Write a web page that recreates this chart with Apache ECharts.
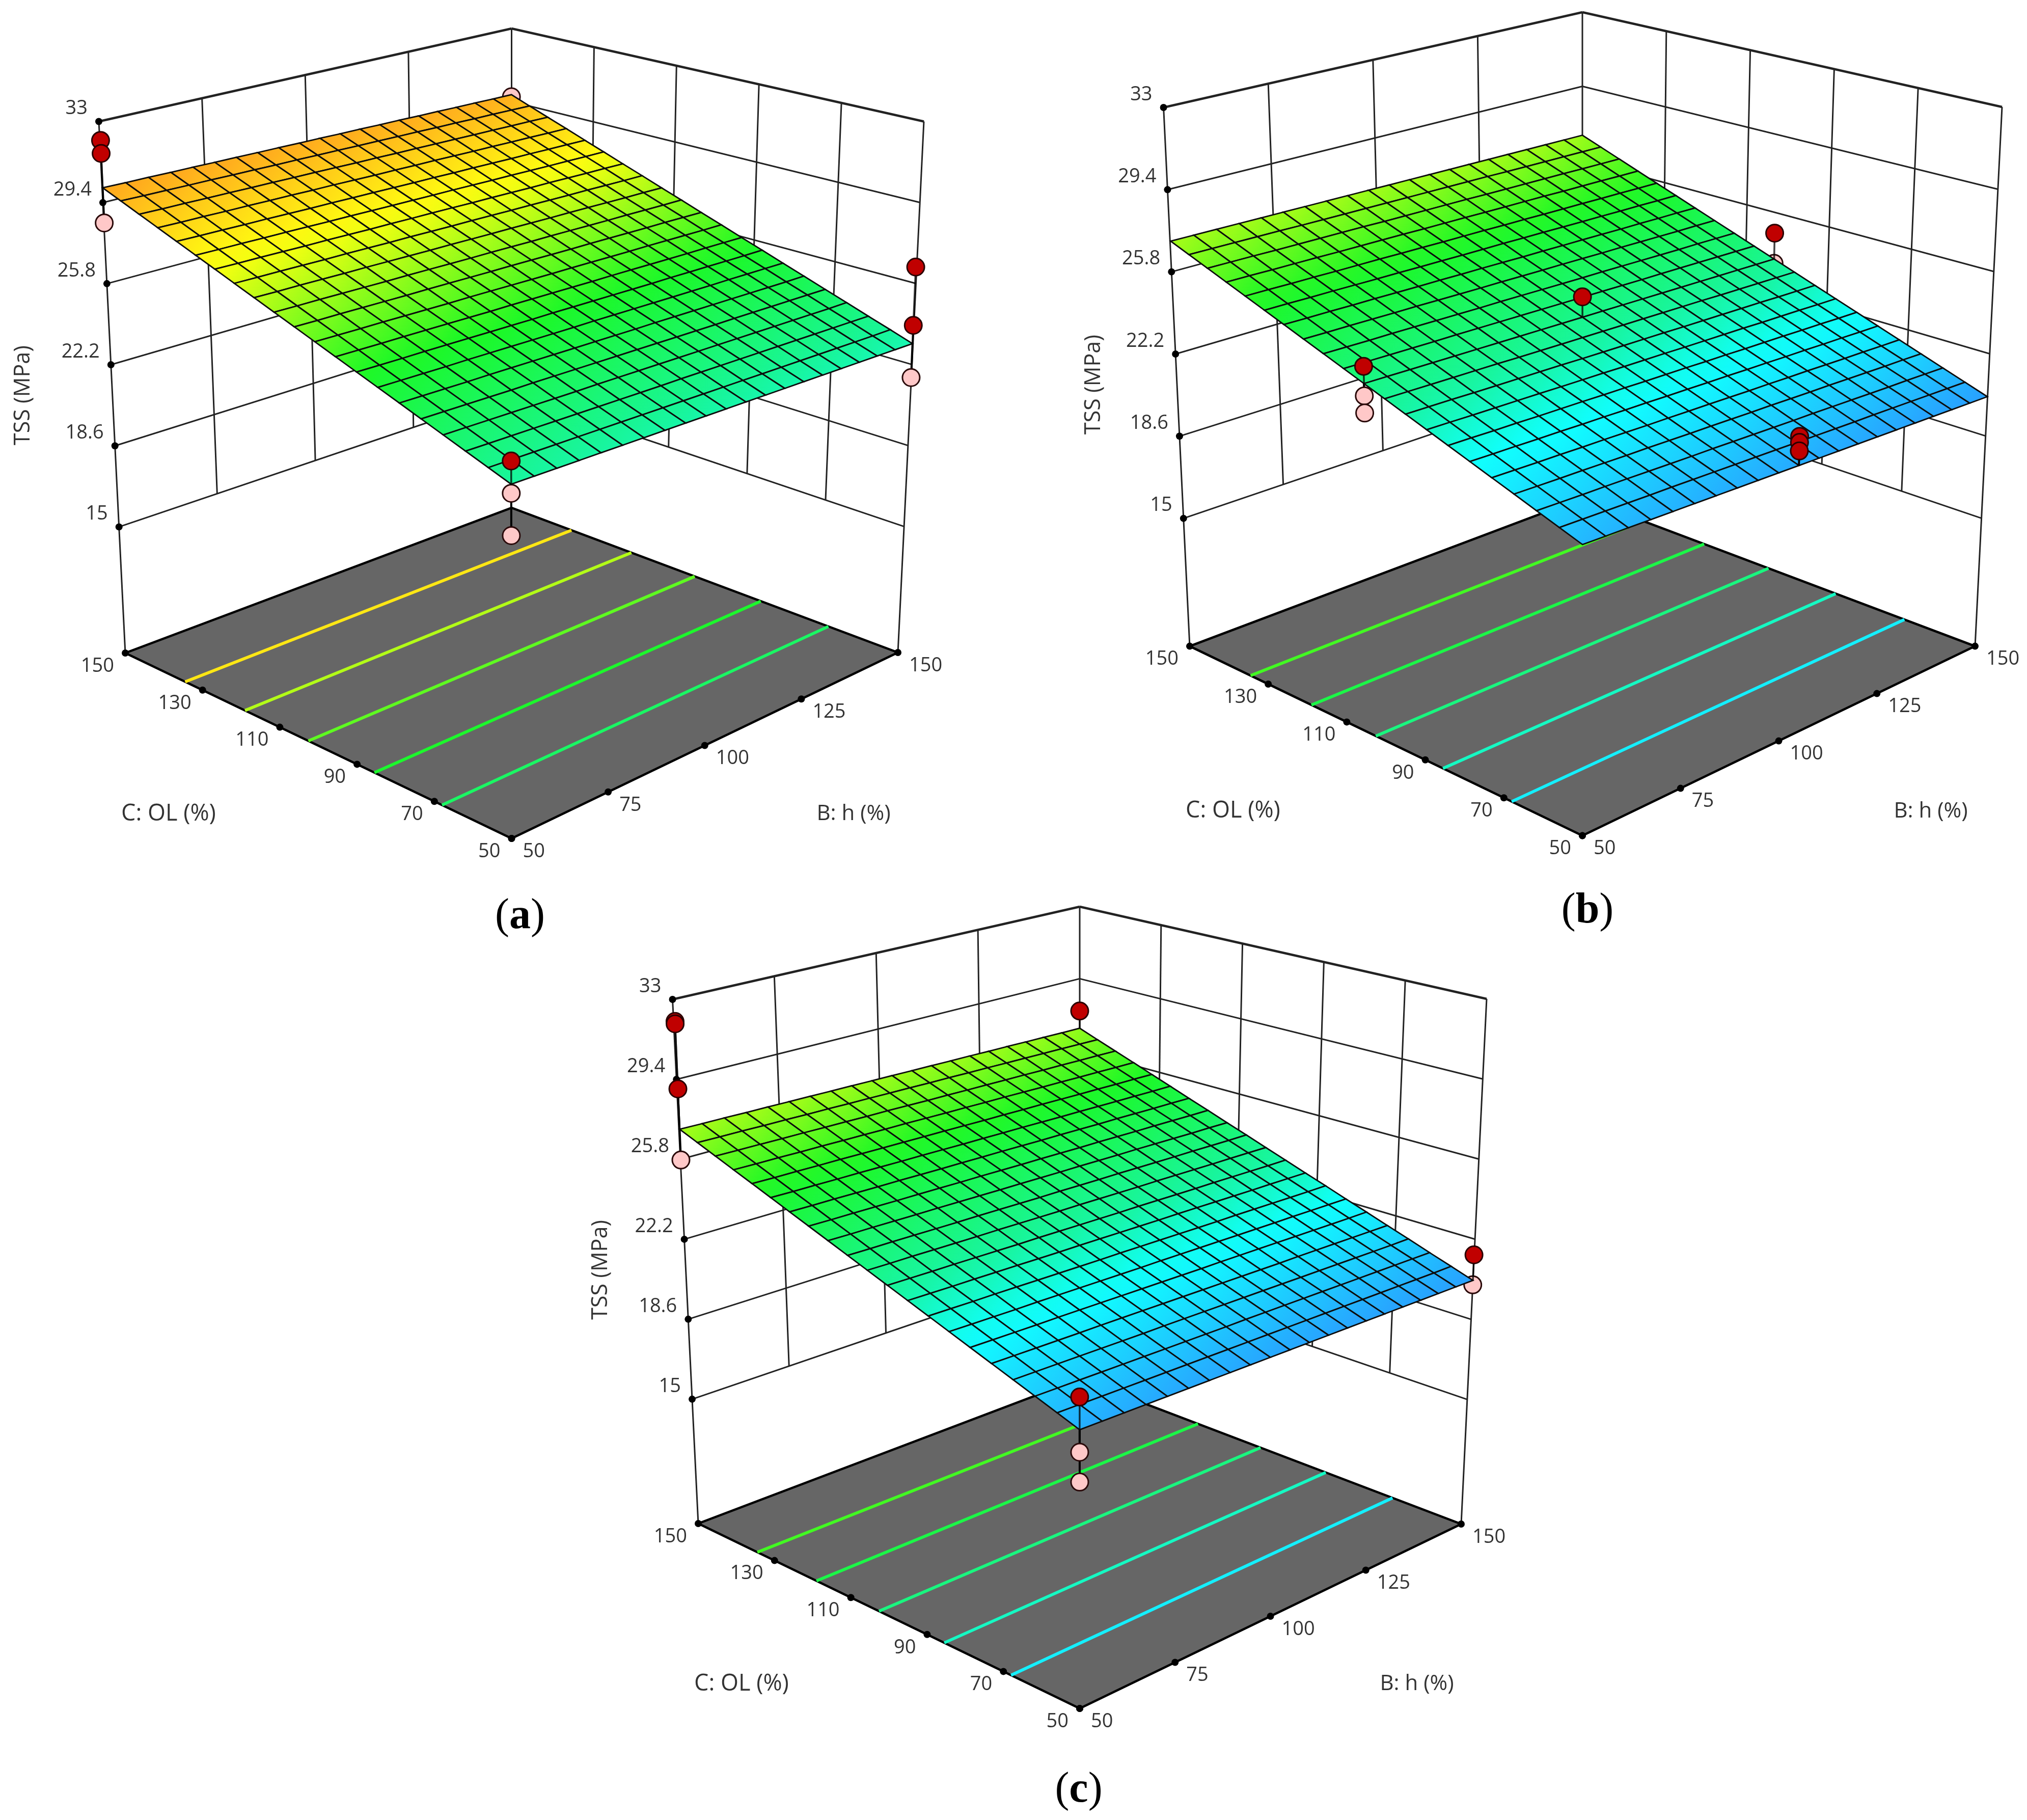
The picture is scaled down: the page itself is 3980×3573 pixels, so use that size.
<!DOCTYPE html>
<html><head><meta charset="utf-8">
<script src="https://cdn.jsdelivr.net/npm/echarts@6/dist/echarts.min.js"></script>
<style>html,body{margin:0;padding:0;background:#fff}#c{width:3980px;height:3573px}</style>
</head><body><div id="c"></div>
<script>
const bTicks=[50,75,100,125,150];
const cTicks=[50,70,90,110,130,150];
const zTicks=[15,18.6,22.2,25.8,29.4,33];
const zTickLabels=['15','18.6','22.2','25.8','29.4','33'];
const gridB=[50,55,60,65,70,75,80,85,90,95,100,105,110,115,120,125,130,135,140,145,150];
const gridC=[150,145,140,135,130,125,120,115,110,105,100,95,90,85,80,75,70,65,60,55,50];
const floorZ=9.4;
// TSS fitted surface, rows follow gridC, columns follow gridB
const surfaceA=[
[30.00,29.99,29.99,29.98,29.98,29.97,29.97,29.96,29.96,29.95,29.95,29.94,29.94,29.93,29.93,29.92,29.92,29.91,29.91,29.90,29.90],
[29.68,29.67,29.67,29.66,29.66,29.65,29.65,29.64,29.64,29.63,29.63,29.62,29.62,29.61,29.61,29.60,29.60,29.59,29.59,29.58,29.57],
[29.36,29.35,29.35,29.34,29.34,29.33,29.33,29.32,29.32,29.31,29.30,29.30,29.29,29.29,29.28,29.28,29.27,29.27,29.26,29.26,29.25],
[29.04,29.03,29.03,29.02,29.02,29.01,29.01,29.00,29.00,28.99,28.98,28.98,28.97,28.97,28.96,28.95,28.95,28.94,28.94,28.93,28.93],
[28.72,28.71,28.71,28.70,28.70,28.69,28.68,28.68,28.67,28.67,28.66,28.65,28.65,28.64,28.64,28.63,28.62,28.62,28.61,28.61,28.60],
[28.40,28.39,28.39,28.38,28.38,28.37,28.36,28.36,28.35,28.34,28.34,28.33,28.33,28.32,28.31,28.31,28.30,28.29,28.29,28.28,28.28],
[28.08,28.07,28.07,28.06,28.05,28.05,28.04,28.03,28.03,28.02,28.02,28.01,28.00,28.00,27.99,27.98,27.98,27.97,27.96,27.96,27.95],
[27.76,27.75,27.75,27.74,27.73,27.73,27.72,27.71,27.71,27.70,27.69,27.69,27.68,27.67,27.67,27.66,27.65,27.65,27.64,27.63,27.63],
[27.44,27.43,27.43,27.42,27.41,27.41,27.40,27.39,27.38,27.38,27.37,27.36,27.36,27.35,27.34,27.34,27.33,27.32,27.31,27.31,27.30],
[27.12,27.11,27.11,27.10,27.09,27.08,27.08,27.07,27.06,27.05,27.05,27.04,27.03,27.03,27.02,27.01,27.00,27.00,26.99,26.98,26.98],
[26.80,26.79,26.79,26.78,26.77,26.76,26.76,26.75,26.74,26.73,26.73,26.72,26.71,26.70,26.70,26.69,26.68,26.67,26.67,26.66,26.65],
[26.48,26.47,26.46,26.46,26.45,26.44,26.43,26.43,26.42,26.41,26.40,26.39,26.39,26.38,26.37,26.36,26.36,26.35,26.34,26.33,26.33],
[26.16,26.15,26.14,26.14,26.13,26.12,26.11,26.10,26.10,26.09,26.08,26.07,26.06,26.06,26.05,26.04,26.03,26.02,26.02,26.01,26.00],
[25.84,25.83,25.82,25.82,25.81,25.80,25.79,25.78,25.77,25.77,25.76,25.75,25.74,25.73,25.72,25.72,25.71,25.70,25.69,25.68,25.68],
[25.52,25.51,25.50,25.49,25.49,25.48,25.47,25.46,25.45,25.44,25.44,25.43,25.42,25.41,25.40,25.39,25.38,25.38,25.37,25.36,25.35],
[25.20,25.19,25.18,25.17,25.17,25.16,25.15,25.14,25.13,25.12,25.11,25.10,25.10,25.09,25.08,25.07,25.06,25.05,25.04,25.03,25.03],
[24.88,24.87,24.86,24.85,24.84,24.84,24.83,24.82,24.81,24.80,24.79,24.78,24.77,24.76,24.75,24.75,24.74,24.73,24.72,24.71,24.70],
[24.56,24.55,24.54,24.53,24.52,24.51,24.50,24.50,24.49,24.48,24.47,24.46,24.45,24.44,24.43,24.42,24.41,24.40,24.39,24.38,24.38],
[24.24,24.23,24.22,24.21,24.20,24.19,24.18,24.17,24.16,24.15,24.15,24.14,24.13,24.12,24.11,24.10,24.09,24.08,24.07,24.06,24.05],
[23.92,23.91,23.90,23.89,23.88,23.87,23.86,23.85,23.84,23.83,23.82,23.81,23.80,23.79,23.78,23.77,23.76,23.75,23.74,23.73,23.73],
[23.60,23.59,23.58,23.57,23.56,23.55,23.54,23.53,23.52,23.51,23.50,23.49,23.48,23.47,23.46,23.45,23.44,23.43,23.42,23.41,23.40]];
const surfaceB=[
[27.20,27.20,27.20,27.20,27.20,27.20,27.20,27.20,27.20,27.20,27.20,27.20,27.20,27.20,27.20,27.20,27.20,27.20,27.20,27.20,27.20],
[26.89,26.89,26.89,26.89,26.89,26.88,26.88,26.88,26.88,26.88,26.88,26.88,26.88,26.88,26.88,26.87,26.87,26.87,26.87,26.87,26.87],
[26.58,26.58,26.58,26.57,26.57,26.57,26.57,26.57,26.56,26.56,26.56,26.56,26.56,26.55,26.55,26.55,26.55,26.55,26.54,26.54,26.54],
[26.27,26.27,26.26,26.26,26.26,26.25,26.25,26.25,26.25,26.24,26.24,26.24,26.23,26.23,26.23,26.23,26.22,26.22,26.22,26.21,26.21],
[25.96,25.96,25.95,25.95,25.94,25.94,25.94,25.93,25.93,25.92,25.92,25.92,25.91,25.91,25.90,25.90,25.90,25.89,25.89,25.88,25.88],
[25.65,25.65,25.64,25.64,25.63,25.62,25.62,25.61,25.61,25.60,25.60,25.60,25.59,25.59,25.58,25.57,25.57,25.56,25.56,25.55,25.55],
[25.34,25.33,25.33,25.32,25.32,25.31,25.30,25.30,25.29,25.29,25.28,25.27,25.27,25.26,25.26,25.25,25.24,25.24,25.23,25.23,25.22],
[25.03,25.02,25.02,25.01,25.00,25.00,24.99,24.98,24.97,24.97,24.96,24.95,24.95,24.94,24.93,24.93,24.92,24.91,24.90,24.90,24.89],
[24.72,24.71,24.70,24.70,24.69,24.68,24.67,24.66,24.66,24.65,24.64,24.63,24.62,24.62,24.61,24.60,24.59,24.58,24.58,24.57,24.56],
[24.41,24.40,24.39,24.38,24.37,24.37,24.36,24.35,24.34,24.33,24.32,24.31,24.30,24.29,24.28,24.28,24.27,24.26,24.25,24.24,24.23],
[24.10,24.09,24.08,24.07,24.06,24.05,24.04,24.03,24.02,24.01,24.00,23.99,23.98,23.97,23.96,23.95,23.94,23.93,23.92,23.91,23.90],
[23.79,23.78,23.77,23.76,23.75,23.74,23.72,23.71,23.70,23.69,23.68,23.67,23.66,23.65,23.64,23.63,23.61,23.60,23.59,23.58,23.57],
[23.48,23.47,23.46,23.44,23.43,23.42,23.41,23.40,23.38,23.37,23.36,23.35,23.34,23.32,23.31,23.30,23.29,23.28,23.26,23.25,23.24],
[23.17,23.16,23.14,23.13,23.12,23.11,23.09,23.08,23.07,23.05,23.04,23.03,23.01,23.00,22.99,22.98,22.96,22.95,22.94,22.92,22.91],
[22.86,22.85,22.83,22.82,22.80,22.79,22.78,22.76,22.75,22.73,22.72,22.71,22.69,22.68,22.66,22.65,22.64,22.62,22.61,22.59,22.58],
[22.55,22.53,22.52,22.50,22.49,22.47,22.46,22.44,22.43,22.41,22.40,22.38,22.37,22.35,22.34,22.32,22.31,22.29,22.28,22.26,22.25],
[22.24,22.22,22.20,22.19,22.17,22.16,22.14,22.12,22.11,22.09,22.08,22.06,22.04,22.03,22.01,22.00,21.98,21.96,21.95,21.93,21.92],
[21.93,21.91,21.89,21.88,21.86,21.84,21.83,21.81,21.79,21.78,21.76,21.74,21.73,21.71,21.69,21.68,21.66,21.64,21.62,21.61,21.59],
[21.62,21.60,21.58,21.57,21.55,21.53,21.51,21.49,21.48,21.46,21.44,21.42,21.40,21.39,21.37,21.35,21.33,21.31,21.30,21.28,21.26],
[21.31,21.29,21.27,21.25,21.23,21.22,21.20,21.18,21.16,21.14,21.12,21.10,21.08,21.06,21.04,21.03,21.01,20.99,20.97,20.95,20.93],
[21.00,20.98,20.96,20.94,20.92,20.90,20.88,20.86,20.84,20.82,20.80,20.78,20.76,20.74,20.72,20.70,20.68,20.66,20.64,20.62,20.60]];
const surfaceC=[
[27.20,27.19,27.19,27.18,27.18,27.17,27.17,27.16,27.16,27.15,27.15,27.14,27.14,27.13,27.13,27.12,27.12,27.11,27.11,27.10,27.10],
[26.88,26.87,26.87,26.86,26.86,26.85,26.85,26.84,26.84,26.83,26.83,26.82,26.82,26.81,26.81,26.80,26.80,26.79,26.79,26.78,26.77],
[26.56,26.55,26.55,26.54,26.54,26.53,26.53,26.52,26.52,26.51,26.50,26.50,26.49,26.49,26.48,26.48,26.47,26.47,26.46,26.46,26.45],
[26.24,26.23,26.23,26.22,26.22,26.21,26.21,26.20,26.20,26.19,26.18,26.18,26.17,26.17,26.16,26.15,26.15,26.14,26.14,26.13,26.13],
[25.92,25.91,25.91,25.90,25.90,25.89,25.88,25.88,25.87,25.87,25.86,25.85,25.85,25.84,25.84,25.83,25.82,25.82,25.81,25.81,25.80],
[25.60,25.59,25.59,25.58,25.58,25.57,25.56,25.56,25.55,25.54,25.54,25.53,25.53,25.52,25.51,25.51,25.50,25.49,25.49,25.48,25.48],
[25.28,25.27,25.27,25.26,25.25,25.25,25.24,25.23,25.23,25.22,25.22,25.21,25.20,25.20,25.19,25.18,25.18,25.17,25.16,25.16,25.15],
[24.96,24.95,24.95,24.94,24.93,24.93,24.92,24.91,24.91,24.90,24.89,24.89,24.88,24.87,24.87,24.86,24.85,24.85,24.84,24.83,24.83],
[24.64,24.63,24.63,24.62,24.61,24.61,24.60,24.59,24.58,24.58,24.57,24.56,24.56,24.55,24.54,24.54,24.53,24.52,24.51,24.51,24.50],
[24.32,24.31,24.31,24.30,24.29,24.28,24.28,24.27,24.26,24.25,24.25,24.24,24.23,24.23,24.22,24.21,24.20,24.20,24.19,24.18,24.18],
[24.00,23.99,23.99,23.98,23.97,23.96,23.96,23.95,23.94,23.93,23.93,23.92,23.91,23.90,23.90,23.89,23.88,23.87,23.87,23.86,23.85],
[23.68,23.67,23.66,23.66,23.65,23.64,23.63,23.63,23.62,23.61,23.60,23.59,23.59,23.58,23.57,23.56,23.56,23.55,23.54,23.53,23.53],
[23.36,23.35,23.34,23.34,23.33,23.32,23.31,23.30,23.30,23.29,23.28,23.27,23.26,23.26,23.25,23.24,23.23,23.22,23.22,23.21,23.20],
[23.04,23.03,23.02,23.02,23.01,23.00,22.99,22.98,22.97,22.97,22.96,22.95,22.94,22.93,22.92,22.92,22.91,22.90,22.89,22.88,22.88],
[22.72,22.71,22.70,22.69,22.69,22.68,22.67,22.66,22.65,22.64,22.64,22.63,22.62,22.61,22.60,22.59,22.58,22.58,22.57,22.56,22.55],
[22.40,22.39,22.38,22.37,22.37,22.36,22.35,22.34,22.33,22.32,22.31,22.30,22.30,22.29,22.28,22.27,22.26,22.25,22.24,22.23,22.23],
[22.08,22.07,22.06,22.05,22.04,22.04,22.03,22.02,22.01,22.00,21.99,21.98,21.97,21.96,21.95,21.95,21.94,21.93,21.92,21.91,21.90],
[21.76,21.75,21.74,21.73,21.72,21.71,21.70,21.70,21.69,21.68,21.67,21.66,21.65,21.64,21.63,21.62,21.61,21.60,21.59,21.58,21.58],
[21.44,21.43,21.42,21.41,21.40,21.39,21.38,21.37,21.36,21.35,21.35,21.34,21.33,21.32,21.31,21.30,21.29,21.28,21.27,21.26,21.25],
[21.12,21.11,21.10,21.09,21.08,21.07,21.06,21.05,21.04,21.03,21.02,21.01,21.00,20.99,20.98,20.97,20.96,20.95,20.94,20.93,20.93],
[20.80,20.79,20.78,20.77,20.76,20.75,20.74,20.73,20.72,20.71,20.70,20.69,20.68,20.67,20.66,20.65,20.64,20.63,20.62,20.61,20.60]];
// contour lines on the floor: position along C and TSS level
const contourC=[134.5,119,102.6,85.5,68];
const levelsA=[28.7,27.4,26.5,25.7,24.7];
const levelsB=[26.2,25.2,24.2,23.2,22.2];
const levelsC=[26.2,25.2,24.2,23.2,22.2];
// design points [B, C, TSS]: above / below the surface
const aboveA=[[50,150,32.0],[50,150,31.45],[150,50,26.74],[150,50,24.2],[50,50,24.5]];
const belowA=[[50,150,28.5],[150,150,29.8],[150,50,21.9],[50,50,23.25],[50,50,21.6]];
const aboveB=[[50,100,24.8],[100,100,24.88],[150,100,25.08],[100,50,22.0],[100,50,21.75],[100,50,21.4]];
const belowB=[[50,100,23.6],[50,100,22.9],[150,100,23.7]];
const aboveC=[[50,150,31.85],[50,150,31.75],[50,150,28.95],[150,150,27.94],[150,50,21.75],[50,50,22.1]];
const belowC=[[50,150,25.85],[150,50,20.4],[50,50,19.9],[50,50,18.7]];
// colour scale of the response
const colorZ=[20.5,22.5,23.6,25.8,28.2,30.2];
const colorHex=['#2a9cff','#10ffff','#18f5a0','#1cf826','#ffff10','#ffa020'];

// camera calibration: box corner [B,C,z] -> picture position
const camA=[[50,150,33,194,238.5],[150,150,33,1004.5,56],[150,50,33,1814,238.5],[50,150,29.4,201,398],[50,150,25.8,208,557],[50,150,22.2,217,715.5],[50,150,18.6,224,874],[50,150,15,232.6,1033],[150,50,15,1776,1034],[50,150,9.4,246,1282],[50,50,9.4,1004.5,1646],[150,50,9.4,1763,1281],[150,150,9.4,1004.5,997]];
const camB=[[50,150,33,2284.6,211],[150,150,33,3107,24],[150,50,33,3931,210],[50,150,29.4,2292,372],[50,150,25.8,2300,534],[50,150,22.2,2309,695],[50,150,18.6,2316,856],[50,150,15,2323,1018],[150,50,15,3891,1018],[50,150,9.4,2336,1268.6],[50,50,9.4,3107,1640.6],[150,50,9.4,3878,1268.6],[150,150,9.4,3107,978],[150,150,29.4,3107,171]];
const camC=[[50,150,33,1320.5,1962],[150,150,33,2120,1780],[150,50,33,2919,1961],[50,150,29.4,1329,2118],[50,150,25.8,1336,2274],[50,150,22.2,1343.5,2434],[50,150,18.6,1351,2590],[50,150,15,1358,2747],[150,50,15,2882,2745],[50,150,9.4,1371,2991],[50,50,9.4,2120,3354],[150,50,9.4,2869,2992],[150,150,9.4,2120,2707],[150,150,29.4,2120,1923]];

function camera(ctrl){
  const A=[],Y=[];
  ctrl.forEach(([B,C,Z,x,y])=>{
    const u=(B-50)/100,v=(C-50)/100,w=(Z-15)/18,X=x/1000,W=y/1000;
    A.push([u,v,w,1,0,0,0,0,-X*u,-X*v,-X*w]);Y.push(X);
    A.push([0,0,0,0,u,v,w,1,-W*u,-W*v,-W*w]);Y.push(W);
  });
  const n=11,M=[];
  for(let i=0;i<n;i++){const r=[];for(let j=0;j<n;j++){let s=0;A.forEach(a=>s+=a[i]*a[j]);r.push(s);}let s=0;A.forEach((a,k)=>s+=a[i]*Y[k]);r.push(s);M.push(r);}
  for(let i=0;i<n;i++){let m=i;for(let k=i+1;k<n;k++)if(Math.abs(M[k][i])>Math.abs(M[m][i]))m=k;[M[i],M[m]]=[M[m],M[i]];
    for(let k=0;k<n;k++){if(k===i)continue;const f=M[k][i]/M[i][i];for(let j=i;j<=n;j++)M[k][j]-=f*M[i][j];}}
  const p=M.map((r,i)=>r[n]/r[i]);
  return (B,C,Z)=>{const u=(B-50)/100,v=(C-50)/100,w=(Z-15)/18,d=p[8]*u+p[9]*v+p[10]*w+1;
    return [1000*(p[0]*u+p[1]*v+p[2]*w+p[3])/d,1000*(p[4]*u+p[5]*v+p[6]*w+p[7])/d];};
}
// the box frame (walls, floor, ticks, contours) is spaced evenly between its corners
function boxFrame(ctrl,proj){
  const corner=(B,C,Z)=>{const r=ctrl.find(q=>q[0]===B&&q[1]===C&&q[2]===Z);return r?[r[3],r[4]]:proj(B,C,Z);};
  const K={};
  [50,150].forEach(B=>[50,150].forEach(C=>[floorZ,33].forEach(Z=>{K[B+'_'+C+'_'+Z]=corner(B,C,Z);})));
  return (B,C,Z)=>{const u=(B-50)/100,v=(C-50)/100,w=(Z-floorZ)/(33-floorZ);
    const q=(a,b,t)=>[a[0]+(b[0]-a[0])*t,a[1]+(b[1]-a[1])*t];
    const lvl=z=>q(q(K['50_50_'+z],K['150_50_'+z],u),q(K['50_150_'+z],K['150_150_'+z],u),v);
    return q(lvl(floorZ),lvl(33),w);};
}
function hex(c){return [1,3,5].map(i=>parseInt(c.substr(i,2),16));}
function colorAt(z){
  if(z<=colorZ[0])return colorHex[0];
  for(let i=1;i<colorZ.length;i++){if(z<=colorZ[i]){const t=(z-colorZ[i-1])/(colorZ[i]-colorZ[i-1]),a=hex(colorHex[i-1]),b=hex(colorHex[i]);
    return 'rgb('+a.map((v,k)=>Math.round(v+(b[k]-v)*t)).join(',')+')';}}
  return colorHex[colorHex.length-1];
}
const TEXT='#333333',FONT='"Open Sans"';
let Z=1;
function lines(name,rows,proj,styleOf){
  return {type:'custom',name,coordinateSystem:'cartesian2d',silent:true,clip:false,z:Z++,progressive:0,data:rows,
    renderItem(p,api){const a=api.coord(proj(api.value(0),api.value(1),api.value(2))),b=api.coord(proj(api.value(3),api.value(4),api.value(5)));
      return {type:'line',shape:{x1:a[0],y1:a[1],x2:b[0],y2:b[1]},style:styleOf(rows[p.dataIndex])};}};
}
function dots(name,rows,proj,style,r){
  return {type:'custom',name,coordinateSystem:'cartesian2d',silent:true,clip:false,z:Z++,progressive:0,data:rows,
    renderItem(p,api){const a=api.coord(proj(api.value(0),api.value(1),api.value(2)));
      return {type:'circle',shape:{cx:a[0],cy:a[1],r},style};}};
}
function panel(cam,surf,levels,above,below,opt){
  const proj=camera(cam),flat=boxFrame(cam,proj),top=33,bot=15;
  const surfAt=(B,C)=>surf[gridC.indexOf(C)][gridB.indexOf(B)];
  const walls=[];
  zTicks.forEach(z=>{walls.push([50,150,z,150,150,z],[150,150,z,150,50,z]);});
  bTicks.slice(1,-1).forEach(b=>walls.push([b,150,bot,b,150,top]));
  cTicks.slice(1,-1).forEach(c=>walls.push([150,c,bot,150,c,top]));
  walls.push([150,150,bot,150,150,top],[50,150,floorZ,50,150,top],[150,50,floorZ,150,50,top]);
  const out=[];
  out.push(lines('walls',walls,flat,r=>({stroke:'#222',lineWidth:(r[2]===top&&r[5]===top)?4.5:3})));
  out.push({type:'custom',name:'floor',coordinateSystem:'cartesian2d',silent:true,clip:false,z:Z++,progressive:0,data:[[50,150],[50,50],[150,50],[150,150]],
    renderItem(p,api){ if(p.dataIndex!==0)return null;
      const pts=[[50,150],[50,50],[150,50],[150,150]].map(q=>api.coord(flat(q[0],q[1],floorZ)));
      return {type:'polygon',shape:{points:pts},style:{fill:'#666666',stroke:'#000',lineWidth:4.5}};}});
  const cont=contourC.map((c,i)=>[50,c,floorZ,150,c,floorZ,levels[i]]);
  out.push(lines('contours',cont,flat,r=>({stroke:colorAt(r[6]),lineWidth:6})));
  const tickRows=[];
  zTicks.forEach(z=>tickRows.push([50,150,z]));
  cTicks.forEach(c=>tickRows.push([50,c,floorZ]));
  bTicks.forEach(b=>tickRows.push([b,50,floorZ]));
  out.push(dots('ticks',tickRows,flat,{fill:'#000'},7));
  const stemB=below.map(q=>[q[0],q[1],q[2],q[0],q[1],surfAt(q[0],q[1])]);
  out.push(lines('stems below',stemB,proj,()=>({stroke:'#000',lineWidth:4})));
  out.push(dots('points below',below,proj,{fill:'#FFC8C8',stroke:'#2a0a0a',lineWidth:3},17));
  const cells=[];
  for(let i=0;i<gridC.length-1;i++)for(let j=gridB.length-2;j>=0;j--)
    cells.push([gridB[j],gridB[j+1],gridC[i],gridC[i+1],surf[i][j],surf[i][j+1],surf[i+1][j+1],surf[i+1][j]]);
  out.push({type:'custom',name:'surface',coordinateSystem:'cartesian2d',silent:true,clip:false,z:Z++,progressive:0,data:cells,
    renderItem(p,api){
      const b0=api.value(0),b1=api.value(1),c0=api.value(2),c1=api.value(3),z00=api.value(4),z01=api.value(5),z11=api.value(6),z10=api.value(7);
      const P=[proj(b0,c0,z00),proj(b1,c0,z01),proj(b1,c1,z11),proj(b0,c1,z10)].map(q=>api.coord(q));
      const m1=[(P[0][0]+P[1][0])/2,(P[0][1]+P[1][1])/2],m2=[(P[2][0]+P[3][0])/2,(P[2][1]+P[3][1])/2];
      const fill=new echarts.graphic.LinearGradient(m1[0],m1[1],m2[0],m2[1],[{offset:0,color:colorAt((z00+z01)/2)},{offset:1,color:colorAt((z11+z10)/2)}],true);
      return {type:'polygon',shape:{points:P},style:{fill,stroke:'#0c0c0c',lineWidth:2.8}};}});
  const stemA=above.map(q=>[q[0],q[1],q[2],q[0],q[1],surfAt(q[0],q[1])]);
  out.push(lines('stems above',stemA,proj,()=>({stroke:'rgba(0,0,0,0.75)',lineWidth:3.5})));
  out.push(dots('points above',above,proj,{fill:'#C00000',stroke:'#2a0000',lineWidth:3},17));
  const texts=[];
  zTicks.forEach((z,i)=>texts.push({at:[50,150,z],t:zTickLabels[i],dx:-22,dy:-25,align:'right'}));
  cTicks.forEach(c=>texts.push({at:[50,c,floorZ],t:String(c),dx:-22,dy:26,align:'right'}));
  bTicks.forEach(b=>texts.push({at:[b,50,floorZ],t:String(b),dx:22,dy:26,align:'left'}));
  out.push({type:'custom',name:'tick labels',coordinateSystem:'cartesian2d',silent:true,clip:false,z:Z++,progressive:0,data:texts.map(t=>t.at),
    renderItem(p,api){const t=texts[p.dataIndex],a=api.coord(flat(api.value(0),api.value(1),api.value(2)));
      return {type:'text',x:a[0]+t.dx,y:a[1]+t.dy,style:{text:t.t,align:t.align,verticalAlign:'middle',fill:TEXT,fontFamily:FONT,fontSize:38}};}});
  const L=flat(50,150,floorZ),F=flat(50,50,floorZ),R=flat(150,50,floorZ),T=flat(50,150,22.2);
  const titles=[
    {t:'C: OL (%)',x:L[0]+85,y:F[1]-48,rot:0,fs:45,ff:FONT},
    {t:'B: h (%)',x:R[0]-87,y:F[1]-48,rot:0,fs:42,ff:FONT},
    {t:'TSS (MPa)',x:flat(50,150,33)[0]+opt.tssDx,y:T[1]+60,rot:Math.PI/2,fs:43,ff:FONT}];
  out.push({type:'custom',name:'axis titles',coordinateSystem:'cartesian2d',silent:true,clip:false,z:Z++,progressive:0,data:titles.map(t=>[t.x,t.y]),
    renderItem(p,api){const t=titles[p.dataIndex],a=api.coord([api.value(0),api.value(1)]);
      return {type:'text',x:a[0],y:a[1],rotation:t.rot,style:{text:t.t,align:'center',verticalAlign:'middle',fill:TEXT,fontFamily:t.ff,fontSize:t.fs}};}});
  out.push({type:'custom',name:'caption',coordinateSystem:'cartesian2d',silent:true,clip:false,z:Z++,progressive:0,data:[opt.cap],
    renderItem(p,api){const a=api.coord([api.value(0),api.value(1)]);
      return {type:'text',x:a[0],y:a[1],style:{text:'{p|(}{b|'+opt.letter+'}{p|)}',align:'center',verticalAlign:'middle',
        rich:{p:{fontFamily:'"Liberation Serif"',fontSize:84,fill:'#000'},b:{fontFamily:'"Liberation Serif"',fontWeight:'bold',fontSize:84,fill:'#000'}}}};}});
  return out;
}
const series=[].concat(
  panel(camA,surfaceA,levelsA,aboveA,belowA,{tssDx:-148,cap:[1021,1800],letter:'a'}),
  panel(camB,surfaceB,levelsB,aboveB,belowB,{tssDx:-137,cap:[3117,1789],letter:'b'}),
  panel(camC,surfaceC,levelsC,aboveC,belowC,{tssDx:-141,cap:[2118,3515],letter:'c'})
);
const chart=echarts.init(document.getElementById('c'),null,{renderer:'canvas'});
chart.setOption({animation:false,backgroundColor:'#fff',
  grid:{left:0,right:0,top:0,bottom:0},
  xAxis:{type:'value',min:0,max:3980,show:false},
  yAxis:{type:'value',min:0,max:3573,inverse:true,show:false},
  series});
</script></body></html>
